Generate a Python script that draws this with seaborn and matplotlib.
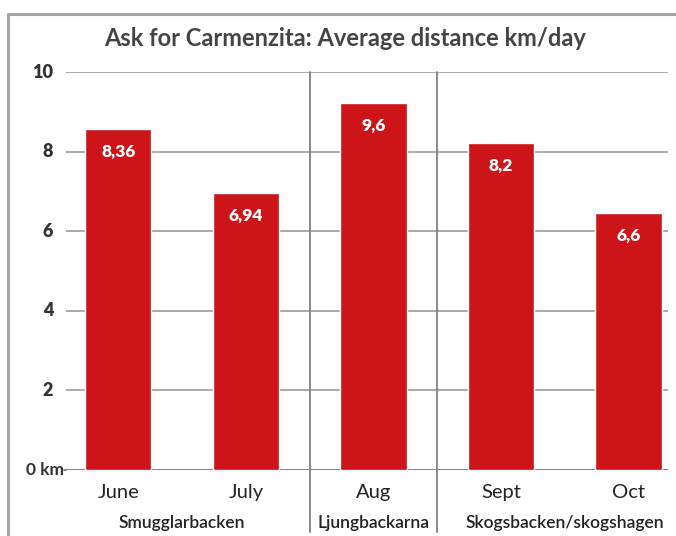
import matplotlib
matplotlib.use("Agg")
import matplotlib.pyplot as plt
import seaborn as sns
from matplotlib.lines import Line2D

months = ["June", "July", "Aug", "Sept", "Oct"]
heights = [8.57, 6.96, 9.22, 8.22, 6.46]
value_labels = ["8,36", "6,94", "9,6", "8,2", "6,6"]
groups = ["Smugglarbacken", "Ljungbackarna", "Skogsbacken/skogshagen"]
group_spans = [(0, 1), (2, 2), (3, 4)]
yticks = [0, 2, 4, 6, 8, 10]
ytick_labels = ["0 km", "2", "4", "6", "8", "10"]
title = "Ask for Carmenzita: Average distance km/day"

sns.set_theme(style="white")
plt.rcParams["font.family"] = ["Lato", "DejaVu Sans"]

W, H = 676, 536
fig = plt.figure(figsize=(W / 100, H / 100), dpi=100)
ax = fig.add_axes([66 / W, 1 - 470 / H, (668 - 66) / W, (470 - 72) / H])

red = "#cc1419"
sns.barplot(x=months, y=heights, color=red, width=0.52, saturation=1, ax=ax, zorder=3)

ax.set_xlim(-0.41, 4.31)
ax.set_ylim(0, 10)
for s in ax.spines.values():
    s.set_visible(False)
ax.set_yticks([])
ax.set_xticks([])
ax.set_xlabel("")
ax.set_ylabel("")

for v in yticks:
    ax.axhline(v, color="#aaaaaa" if v else "#808080", lw=1.4, zorder=1)
for v, lab in zip(yticks, ytick_labels):
    if v == 0:
        ax.text(-0.422, v, lab, ha="right", va="center", fontsize=12.5, fontweight="bold", color="#333333")
    else:
        ax.text(-0.51, v, lab, ha="right", va="center", fontsize=13, fontweight="heavy", color="#333333")

ax.plot([-0.425, -0.41], [0, 0], color="#808080", lw=1.4, clip_on=False)

for i, (h, lab) in enumerate(zip(heights, value_labels)):
    ax.text(i, h - 0.58, lab, ha="center", va="center", fontsize=12.5, fontweight="heavy", color="white", zorder=4)

for i, m in enumerate(months):
    ax.text(i, -0.57, m, ha="center", va="center", fontsize=14.5, color="#222222")

for g, (a, b) in zip(groups, group_spans):
    ax.text((a + b) / 2, -1.32, g, ha="center", va="center", fontsize=12.5, fontweight="semibold", color="#222222")

trans = ax.get_xaxis_transform()
for xs in [1.5, 2.5]:
    ax.add_line(Line2D([xs, xs], [1.0, -0.155], transform=trans, color="#808080", lw=1.3, clip_on=False, zorder=2))

fig.add_artist(Line2D([8 / W, 8 / W], [0, 1 - 14 / H], transform=fig.transFigure, color="#a5a5a5", lw=2.2))
fig.add_artist(Line2D([8 / W, 1], [1 - 14 / H, 1 - 14 / H], transform=fig.transFigure, color="#a5a5a5", lw=2.2))

fig.text(345 / W, 1 - 38 / H, title, ha="center", va="center", fontsize=17, fontweight="bold", color="#444444")

fig.savefig("out.png", dpi=100, facecolor="white")
